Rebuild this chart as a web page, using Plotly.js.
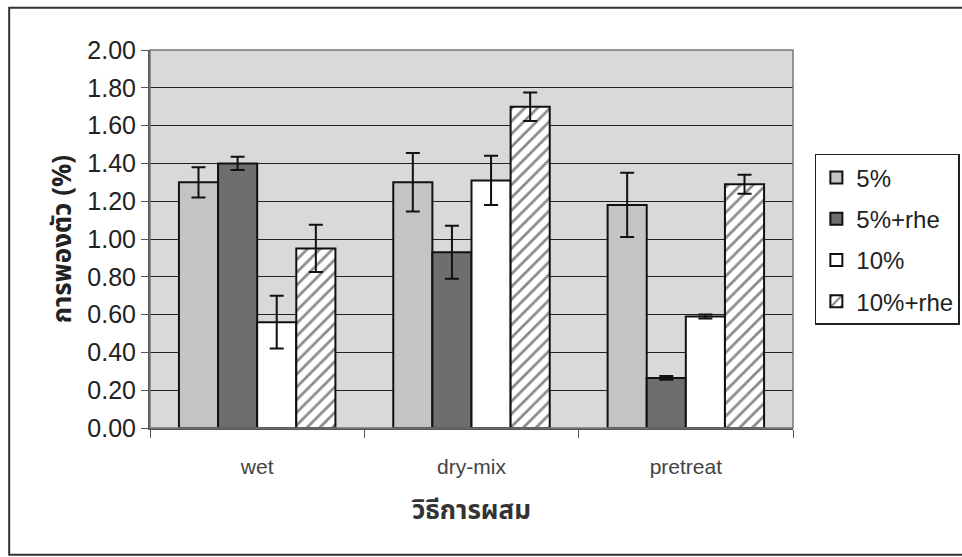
<!DOCTYPE html>
<html>
<head>
<meta charset="utf-8">
<script src="https://cdn.plot.ly/plotly-2.35.2.min.js"></script>
<style>html,body{margin:0;padding:0;background:#fff;}#chart{width:962px;height:557px;}</style>
</head>
<body>
<div id="chart"></div>
<script>
var categories = ["wet", "dry-mix", "pretreat"];
var seriesNames = ["5%", "5%+rhe", "10%", "10%+rhe"];
var val5 = [1.30, 1.30, 1.18];
var err5 = [0.08, 0.155, 0.17];
var val5rhe = [1.40, 0.93, 0.265];
var err5rhe = [0.035, 0.14, 0.01];
var val10 = [0.56, 1.31, 0.59];
var err10 = [0.14, 0.13, 0.01];
var val10rhe = [0.95, 1.70, 1.29];
var err10rhe = [0.125, 0.075, 0.05];
var yTickVals = [0, 0.2, 0.4, 0.6, 0.8, 1.0, 1.2, 1.4, 1.6, 1.8, 2.0];
var yTickText = ["0.00","0.20","0.40","0.60","0.80","1.00","1.20","1.40","1.60","1.80","2.00"];
var yTitle = "การพองตัว (%)";
var xTitle = "วิธีการผสม";

var FONT = "Liberation Sans, Arial, Noto Sans Thai, Noto Sans, sans-serif";
var THAI = "Noto Sans Thai, Noto Sans, Liberation Sans, sans-serif";

function mk(name, y, e, fill, pattern, grp) {
  var t = {
    type: "bar", name: name, x: categories, y: y, legendgroup: grp,
    marker: {color: fill, line: {color: "#111", width: 2}},
    error_y: {type: "data", array: e, visible: true, color: "#111", thickness: 2, width: 7}
  };
  if (pattern) t.marker.pattern = pattern;
  return t;
}
var data = [
  mk(seriesNames[0], val5, err5, "#c4c4c4", null, "a"),
  mk(seriesNames[1], val5rhe, err5rhe, "#6e6e6e", null, "b"),
  mk(seriesNames[2], val10, err10, "#ffffff", null, "c"),
  mk(seriesNames[3], val10rhe, err10rhe, "#ffffff", {shape: "/", fgcolor: "#8a8a8a", bgcolor: "#ffffff", size: 9, solidity: 0.3}, "d")
];

var layout = {
  width: 962, height: 557,
  margin: {l: 150, r: 169, t: 50, b: 129, autoexpand: false},
  paper_bgcolor: "#ffffff",
  plot_bgcolor: "#d9d9d9",
  barmode: "group",
  bargap: 0.27,
  bargroupgap: 0,
  font: {family: FONT, color: "#222"},
  showlegend: true,
  legend: {
    x: 1.034, y: 0.725, xanchor: "left", yanchor: "top",
    bgcolor: "#ffffff", bordercolor: "#222", borderwidth: 1.5,
    font: {family: FONT, size: 24, color: "#222"},
    tracegroupgap: 7,
    itemwidth: 30,
    traceorder: "grouped"
  },
  xaxis: {
    type: "category",
    showgrid: false,
    showline: true, linecolor: "#555", linewidth: 2,
    ticks: "outside", tickson: "boundaries", ticklen: 8, tickcolor: "#555", tickwidth: 1,
    tickfont: {family: FONT, size: 21, color: "#444"},
    ticklabelstandoff: 19,
    title: {text: xTitle, font: {family: THAI, size: 26, color: "#333", weight: "bold"}, standoff: 24},
    mirror: false
  },
  yaxis: {
    range: [0, 2.0],
    tickvals: yTickVals, ticktext: yTickText,
    showgrid: true, gridcolor: "#222", gridwidth: 1,
    showline: true, linecolor: "#555", linewidth: 2,
    ticks: "outside", ticklen: 7, tickcolor: "#555",
    tickfont: {family: FONT, size: 25, color: "#222"},
    title: {text: yTitle, font: {family: THAI, size: 26, color: "#222", weight: "bold"}, standoff: 8},
    zeroline: false
  },
  shapes: [
    {type: "rect", xref: "paper", yref: "paper", x0: 0, x1: 1, y0: 0, y1: 1, line: {color: "#777", width: 1.5}, fillcolor: "rgba(0,0,0,0)", layer: "above"},
    {type: "rect", xref: "paper", yref: "paper", x0: -0.219, x1: 1.3, y0: -0.335, y1: 1.112, line: {color: "#333", width: 2}, fillcolor: "rgba(0,0,0,0)"}
  ]
};

Plotly.newPlot("chart", data, layout, {displayModeBar: false, staticPlot: true});
</script>
</body>
</html>
